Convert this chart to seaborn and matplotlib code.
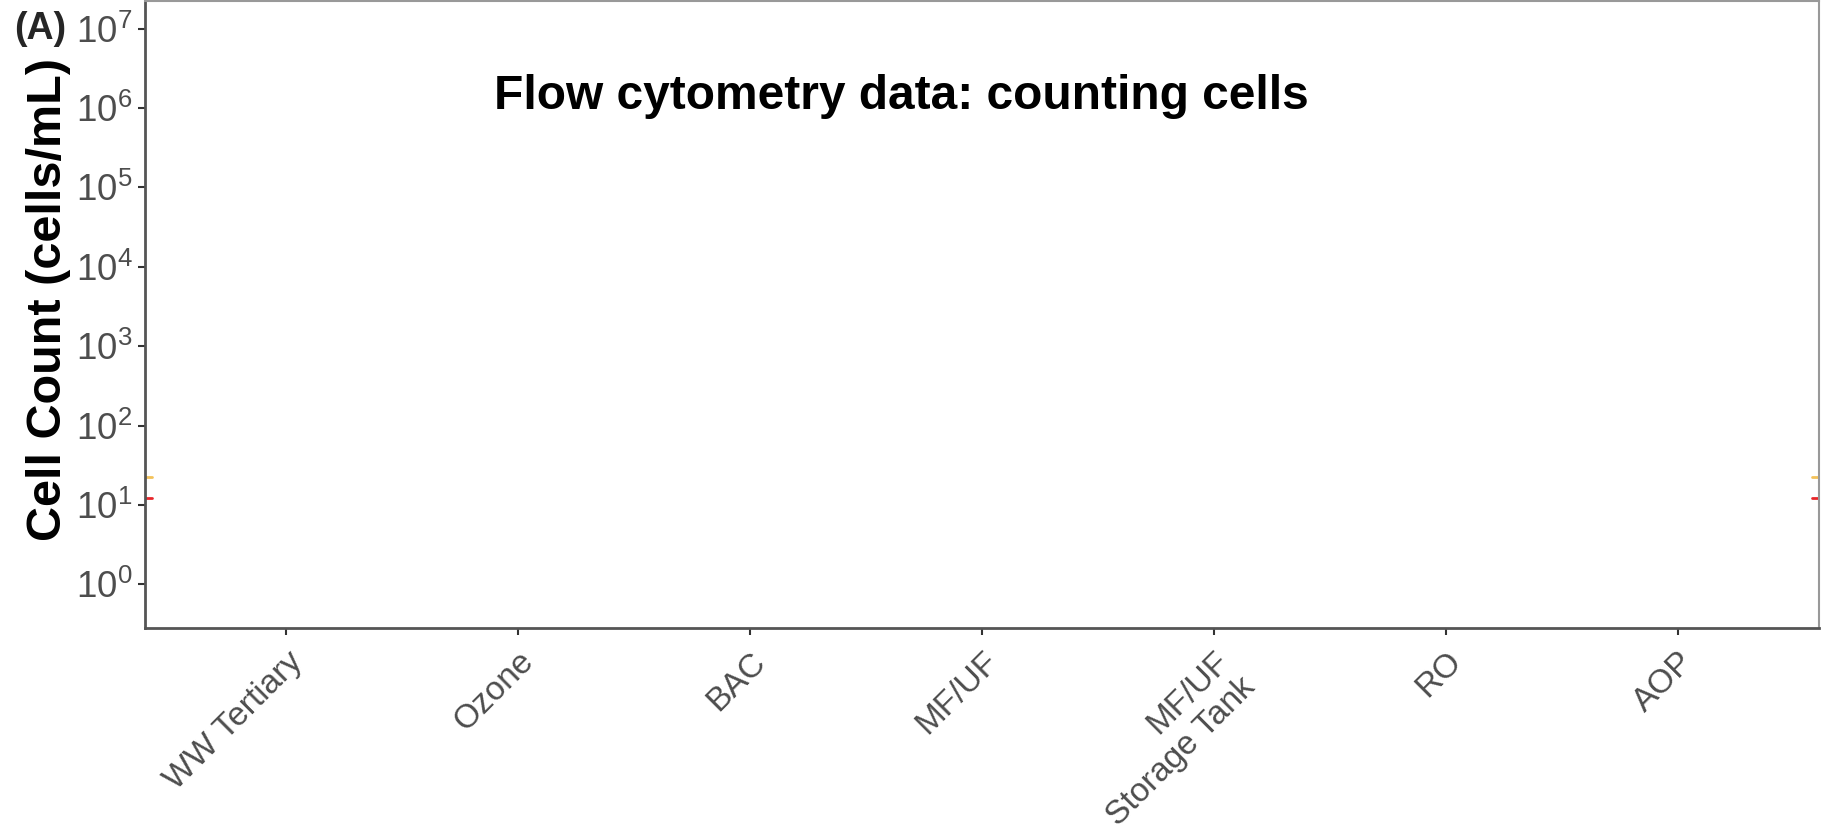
""" Flow cytometry cell counts across the treatment train (panel A).
    Y axis is log-scaled, one category per treatment stage.
"""

import matplotlib
matplotlib.use('Agg')
import matplotlib.pyplot as plt
from matplotlib.ticker import LogLocator, LogFormatterMathtext, NullLocator
import numpy as np
import pandas as pd
import seaborn as sns

# treatment stages on the x axis
stages = ['WW Tertiary', 'Ozone', 'BAC', 'MF/UF', 'MF/UF\nStorage Tank',
          'RO', 'AOP']
# no visible cell counts survive in the panel
counts = [np.nan] * len(stages)

# detection limit lines (cells/mL) and their colours
limit_values = [12.1, 22.3]
limit_colors = ['#e8262a', '#f3c25a']

sns.set_style('white')
plt.rcParams['font.family'] = ['Liberation Sans', 'DejaVu Sans']
plt.rcParams['mathtext.fontset'] = 'custom'
plt.rcParams['mathtext.rm'] = 'Liberation Sans'
plt.rcParams['mathtext.it'] = 'Liberation Sans'

df = pd.DataFrame({'stage': stages, 'count': counts})

fig = plt.figure(figsize=(18.27, 8.24), dpi=100)
ax = fig.add_axes([0.0794, 0.2379, 0.9162, 0.7611])

sns.stripplot(x='stage', y='count', data=df, order=stages, ax=ax,
              color='#333333', size=8)

ax.set_yscale('log')
ax.set_ylim(10 ** -0.55, 10 ** 7.35)
ax.set_xlim(-0.61, len(stages) - 1 + 0.61)

# short stubs of the detection limits at both edges
for val, col in zip(limit_values, limit_colors):
    ax.axhline(val, xmin=0, xmax=0.004, color=col, lw=2)
    ax.axhline(val, xmin=0.996, xmax=1, color=col, lw=2)

ax.yaxis.set_major_locator(LogLocator(base=10, numticks=12))
ax.yaxis.set_major_formatter(LogFormatterMathtext())
ax.yaxis.set_minor_locator(NullLocator())

ax.set_xticks(range(len(stages)))
ax.set_xticklabels(stages, rotation=45, ha='right', rotation_mode='anchor',
                   fontsize=24, color='#4d4d4d', linespacing=1.2)
ax.tick_params(axis='both', length=5, width=1.5, color='#333333',
               direction='out', bottom=True, left=True)
ax.tick_params(axis='y', labelsize=26.5, labelcolor='#4d4d4d', pad=4)
ax.tick_params(axis='x', pad=8)

for side in ('left', 'bottom'):
    ax.spines[side].set_color('#555555')
    ax.spines[side].set_linewidth(2)
for side in ('top', 'right'):
    ax.spines[side].set_color('#999999')
    ax.spines[side].set_linewidth(1.5)

ax.set_xlabel('')
ax.set_ylabel('Cell Count (cells/mL)', fontsize=35, fontweight='bold',
              color='black')
ax.yaxis.set_label_coords(-0.044, 0.524)

ax.text(0.452, 0.847, 'Flow cytometry data: counting cells',
        transform=ax.transAxes, ha='center', va='center',
        fontsize=34.5, fontweight='bold', color='black')
fig.text(0.0219, 0.965, '(A)', ha='center', va='center',
         fontsize=27, fontweight='bold')

fig.savefig('out.png', dpi=100)
